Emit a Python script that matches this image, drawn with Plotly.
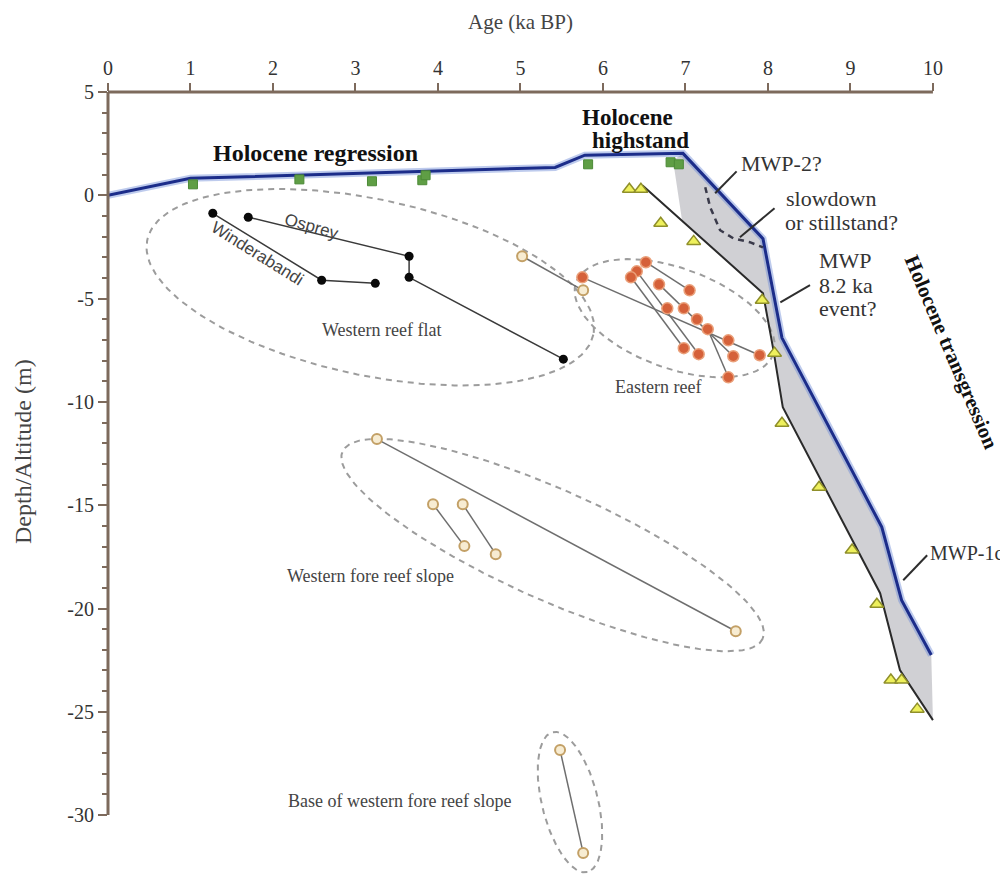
import numpy as np
import plotly.graph_objects as go

# ---------------- data ----------------
# upper sea-level envelope (blue)
blue_x = [0.0, 1.0, 5.42, 5.78, 6.97, 7.94, 8.17, 9.38, 9.62, 9.98]
blue_y = [0.0, 0.82, 1.35, 1.94, 2.03, -2.10, -6.90, -16.06, -19.60, -22.25]

# lower envelope (black)
lower_x = [6.48, 7.94, 8.06, 8.18, 9.36, 9.60, 10.0]
lower_y = [0.48, -4.74, -7.35, -10.26, -19.26, -22.98, -25.40]

# left edge of the grey band at the highstand
band_edge_x = [6.85, 6.96]
band_edge_y = [1.69, -1.24]

# slowdown / stillstand dashed curve
slow_x = [7.24, 7.30, 7.42, 7.58, 7.78, 7.94]
slow_y = [0.39, -0.58, -1.69, -2.08, -2.27, -2.52]

# microatoll (green squares)
sq_x = [1.03, 2.32, 3.20, 3.81, 3.85, 5.82, 6.82, 6.92]
sq_y = [0.53, 0.77, 0.68, 0.73, 0.97, 1.50, 1.60, 1.50]

# other sea-level indicators (yellow triangles)
tri_x = [6.32, 6.46, 6.70, 7.10, 7.93, 8.08, 8.17, 8.62, 9.02, 9.32, 9.49, 9.62, 9.81]
tri_y = [0.29, 0.29, -1.35, -2.23, -5.08, -7.64, -11.03, -14.13, -17.17, -19.79, -23.46, -23.46, -24.87]

# western reef flat cores (black)
osprey_x = [1.70, 3.65, 3.65, 5.52]
osprey_y = [-1.06, -2.95, -3.97, -7.93]
winder_x = [1.27, 2.59, 3.24]
winder_y = [-0.87, -4.11, -4.26]

# eastern reef (orange)
east_x = [5.75, 6.52, 6.41, 6.34, 6.68, 7.05, 6.78, 6.98, 7.14, 7.27, 7.52, 6.98, 7.16, 7.58, 7.90, 7.52]
east_y = [-3.97, -3.24, -3.68, -3.97, -4.31, -4.60, -5.47, -5.47, -6.00, -6.48, -7.02, -7.40, -7.69, -7.79, -7.74, -8.81]
east_links = [(0, 14), (1, 5), (3, 11), (2, 12), (4, 13), (9, 15)]

# fore reef slope & base (tan)
tan_x = [5.02, 5.76, 3.26, 7.61, 3.94, 4.32, 4.30, 4.70, 5.48, 5.76]
tan_y = [-2.95, -4.60, -11.80, -21.10, -14.95, -16.98, -14.95, -17.37, -26.85, -31.83]
tan_links = [(0, 1), (2, 3), (4, 5), (6, 7), (8, 9)]

# group ellipses: centre (data), semi-axes (px), screen angle (deg)
ell_cx = [3.18, 6.87, 5.39, 5.60]
ell_cy = [-4.45, -5.95, -16.93, -29.37]
ell_a = [228, 105, 230, 72]
ell_b = [88, 50, 55, 28]
ell_ang = [12, 20, 24, 76]

x_ticks = list(range(0, 11))
y_ticks = list(range(-30, 6, 5))
y_ticktext = [str(v) for v in y_ticks]
y_minor = [v for v in range(-30, 6) if v % 5 != 0]

# ---------------- layout geometry ----------------
OFF = 8                      # page body margin
W, H = 1008 - OFF, 874 - OFF
ML, MR, MT, MB = 108 - OFF, 0, 92 - OFF, 0
XR = [0, 10.91]
YR = [-32.85, 5]
PW, PH = W - ML - MR, H - MT - MB
kx = PW / (XR[1] - XR[0])
ky = PH / (YR[1] - YR[0])


def px_x(page_x):           # page pixel -> paper x
    return (page_x - OFF - ML) / PW


def px_y(page_y):           # page pixel -> paper y
    return (H + OFF - page_y) / PH


AX = '#7d6a5c'
SERIF = 'Liberation Serif, Times New Roman, serif'
SANS = 'Liberation Sans, Arial, sans-serif'

fig = go.Figure()

# grey band
poly_x = blue_x[4:] + lower_x[::-1][:-1] + band_edge_x[::-1]
poly_y = blue_y[4:] + lower_y[::-1][:-1] + band_edge_y[::-1]
poly_x = poly_x + [poly_x[0]]
poly_y = poly_y + [poly_y[0]]
fig.add_trace(go.Scatter(x=poly_x, y=poly_y, mode='lines', fill='toself',
                         fillcolor='rgba(200,200,204,0.85)', line=dict(width=0),
                         hoverinfo='skip'))

# ellipses
for cx, cy, a, b, ang in zip(ell_cx, ell_cy, ell_a, ell_b, ell_ang):
    t = np.linspace(0, 2 * np.pi, 200)
    th = np.deg2rad(ang)
    dX = a * np.cos(t) * np.cos(th) - b * np.sin(t) * np.sin(th)
    dY = a * np.cos(t) * np.sin(th) + b * np.sin(t) * np.cos(th)
    fig.add_trace(go.Scatter(x=cx + dX / kx, y=cy - dY / ky, mode='lines',
                             line=dict(color='#9c9c9c', width=2, dash='6px,5px'),
                             hoverinfo='skip'))

# lower envelope
fig.add_trace(go.Scatter(x=lower_x, y=lower_y, mode='lines',
                         line=dict(color='#2a2a2a', width=2)))
# blue envelope (halo + line)
fig.add_trace(go.Scatter(x=blue_x, y=blue_y, mode='lines',
                         line=dict(color='rgba(110,140,215,0.45)', width=7)))
fig.add_trace(go.Scatter(x=blue_x, y=blue_y, mode='lines',
                         line=dict(color='#1c2d8a', width=3)))
# dashed slowdown curve
fig.add_trace(go.Scatter(x=slow_x, y=slow_y, mode='lines',
                         line=dict(color='#3a3a4a', width=2.5, dash='6px,5px')))


def links(xs, ys, pairs):
    lx, ly = [], []
    for i, j in pairs:
        lx += [xs[i], xs[j], None]
        ly += [ys[i], ys[j], None]
    return lx, ly


lx, ly = links(east_x, east_y, east_links)
fig.add_trace(go.Scatter(x=lx, y=ly, mode='lines', line=dict(color='#6e6e6e', width=1.5)))
lx, ly = links(tan_x, tan_y, tan_links)
fig.add_trace(go.Scatter(x=lx, y=ly, mode='lines', line=dict(color='#6e6e6e', width=1.5)))
fig.add_trace(go.Scatter(x=osprey_x, y=osprey_y, mode='lines+markers',
                         line=dict(color='#3a3a3a', width=1.5),
                         marker=dict(color='#0a0a0a', size=9)))
fig.add_trace(go.Scatter(x=winder_x, y=winder_y, mode='lines+markers',
                         line=dict(color='#3a3a3a', width=1.5),
                         marker=dict(color='#0a0a0a', size=9)))

fig.add_trace(go.Scatter(x=east_x, y=east_y, mode='markers',
                         marker=dict(color='#d5613a', size=11, line=dict(color='#eaa07a', width=1.5))))
fig.add_trace(go.Scatter(x=tan_x, y=tan_y, mode='markers',
                         marker=dict(color='#f7ecd2', size=10, line=dict(color='#c3a066', width=2))))
fig.add_trace(go.Scatter(x=sq_x, y=sq_y, mode='markers',
                         marker=dict(symbol='square', color='#5f9e45', size=9,
                                     line=dict(color='#4c8a37', width=1))))
fig.add_trace(go.Scatter(x=tri_x, y=tri_y, mode='markers',
                         marker=dict(symbol='triangle-up', color='#eef05c', size=12,
                                     line=dict(color='#8f8f2a', width=1.5))))

# leader lines
lead_x = [7.62, 7.36, None, 8.08, 7.66, None, 8.51, 8.15, None, 9.93, 9.64]
lead_y = [1.16, 0.10, None, -0.63, -2.03, None, -4.35, -5.18, None, -17.42, -18.63]
fig.add_trace(go.Scatter(x=lead_x, y=lead_y, mode='lines', line=dict(color='#2e2e2e', width=2)))

# axes lines
fig.add_shape(type='line', xref='x', yref='paper', x0=0, x1=10, y0=1, y1=1,
              line=dict(color=AX, width=3))
fig.add_shape(type='line', xref='paper', yref='y', x0=0, x1=0, y0=-30, y1=5,
              line=dict(color=AX, width=3))


def ann(text, x, y, size, bold=False, angle=0, xanchor='center', font=SERIF,
        color='#333333', xref='x', yref='y'):
    fig.add_annotation(text=('<b>%s</b>' % text) if bold else text, x=x, y=y,
                       xref=xref, yref=yref, showarrow=False, textangle=angle,
                       xanchor=xanchor, yanchor='middle',
                       font=dict(family=font, size=size, color=color))


ann('Age (ka BP)', 5.0, px_y(22), 21, yref='paper', color='#444')
ann('Depth/Altitude (m)', px_x(23), px_y(452), 24, angle=-90,
    xref='paper', yref='paper', color='#444')
ann('Holocene regression', 2.51, 2.03, 24, bold=True, color='#111')
ann('Holocene', 6.30, 3.77, 23, bold=True, color='#111')
ann('highstand', 6.45, 2.66, 23, bold=True, color='#111')
ann('Holocene transgression', 10.22, -7.6, 21, bold=True, angle=67, color='#111')
ann('MWP-2?', 7.65, 1.55, 22, xanchor='left')
ann('slowdown', 8.20, -0.15, 22, xanchor='left')
ann('or stillstand?', 8.18, -1.31, 22, xanchor='left')
ann('MWP', 8.59, -3.14, 22, xanchor='left')
ann('8.2 ka', 8.59, -4.35, 22, xanchor='left')
ann('event?', 8.59, -5.47, 22, xanchor='left')
ann('MWP-1c', 9.94, -17.32, 20, xanchor='left')
ann('Western reef flat', 3.32, -6.53, 18, color='#444')
ann('Eastern reef', 6.67, -9.29, 18, color='#444')
ann('Western fore reef slope', 3.18, -18.43, 18, color='#444')
ann('Base of western fore reef slope', 3.53, -29.3, 18, color='#444')
ann('Osprey', 2.47, -1.5, 17, angle=16, font=SANS, color='#444')
ann('Winderabandi', 1.81, -2.81, 17, angle=32, font=SANS, color='#444')

fig.update_layout(
    width=W, height=H, showlegend=False,
    margin=dict(l=ML, r=MR, t=MT, b=MB, autoexpand=False),
    paper_bgcolor='white', plot_bgcolor='white',
    xaxis=dict(range=XR, side='top', tickvals=x_ticks, ticks='outside', ticklen=8,
               tickwidth=2, tickcolor=AX, showgrid=False, zeroline=False, showline=False,
               tickfont=dict(family=SERIF, size=20, color='#333')),
    yaxis=dict(range=YR, tickvals=y_ticks, ticktext=y_ticktext, ticks='outside',
               ticklen=9, tickwidth=2, tickcolor=AX, showgrid=False, zeroline=False,
               showline=False, tickfont=dict(family=SERIF, size=20, color='#333'),
               minor=dict(tickvals=y_minor, ticks='outside', ticklen=5, tickwidth=1.5,
                          tickcolor=AX, showgrid=False)),
)

fig.write_html('out.html')
